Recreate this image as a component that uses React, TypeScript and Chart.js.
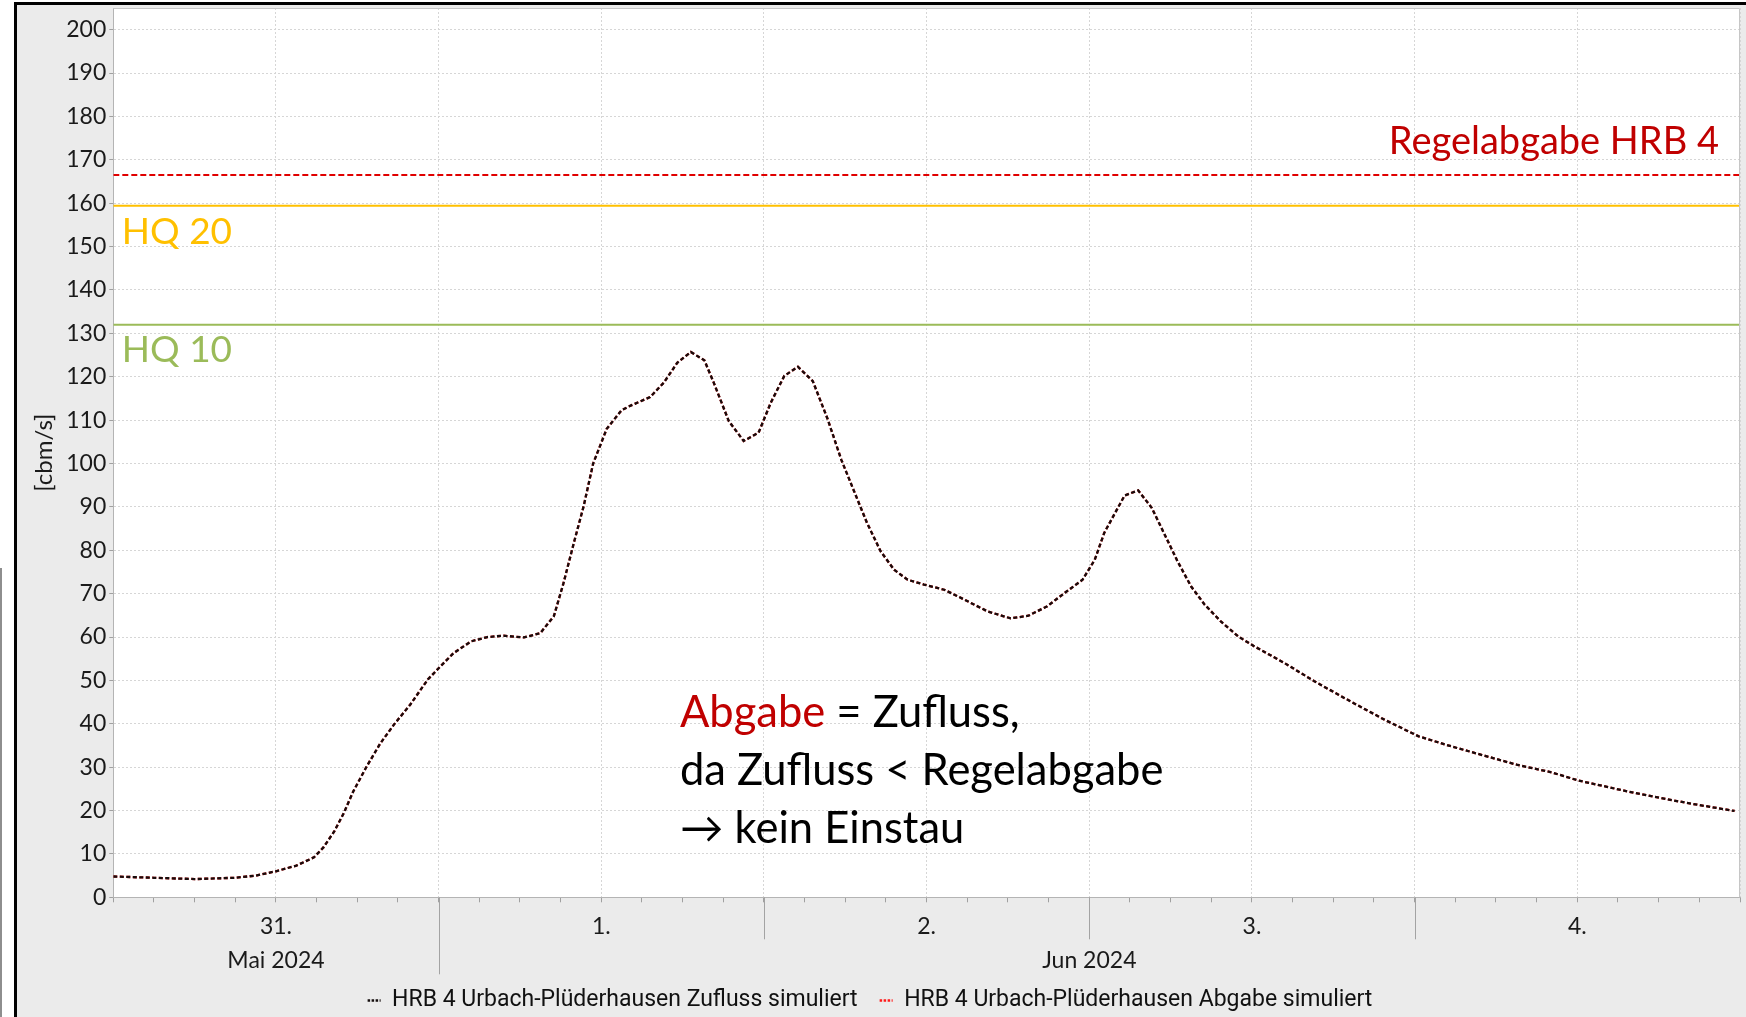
import React, { useEffect, useRef } from 'react';
import { Chart, registerables } from 'chart.js';

Chart.register(...registerables);

// ---- data (hours since 31 May 2024 00:00) ----
const hours = [0, 3, 6, 9, 10.5, 12, 13.5, 14.8, 15.5, 16.3, 17, 17.7, 18.7, 19.7, 20.7, 21.9, 23.2, 24, 25.1, 26.4, 27.6, 28.8, 30.3, 31.5, 32.5, 33.2, 34, 34.7, 35.4, 36.4, 37.5, 38.2, 39.6, 40.6, 41.6, 42.6, 43.6, 44.3, 45.4, 46.5, 47.6, 48.5, 49.5, 50.5, 51.6, 52.7, 53.7, 54.7, 55.6, 56.6, 57.6, 58.6, 59.8, 61.3, 62.8, 64.5, 66.2, 67.5, 68.9, 70.2, 71.5, 72.4, 73.1, 73.9, 74.6, 75.6, 76.6, 77.5, 78.5, 79.5, 80.5, 81.7, 83, 84.2, 86.4, 88.6, 91.3, 93.8, 96.3, 98.7, 101.2, 103.6, 106.1, 108.1, 112.3, 116, 119.6];
const zufluss = [4.8, 4.5, 4.2, 4.5, 5.0, 6.0, 7.3, 9.2, 11.5, 15.2, 19.4, 24.4, 30.2, 35.5, 39.8, 44.4, 50.2, 52.8, 56.3, 59, 60, 60.3, 59.9, 60.9, 64.8, 72.3, 82, 90.2, 100, 108, 112.3, 113.4, 115.3, 118.6, 123.2, 125.7, 123.8, 118.6, 109.8, 105.2, 107.1, 114, 120.2, 122.3, 119, 110.2, 100.9, 93.2, 86.3, 79.8, 75.5, 73.2, 72.1, 70.9, 68.6, 65.9, 64.3, 64.9, 67.1, 70.2, 73.2, 77.8, 84, 88.6, 92.6, 93.8, 89.8, 84, 77.5, 71.7, 67.5, 63.6, 60.1, 57.8, 54, 49.8, 45.1, 40.9, 37.1, 34.8, 32.6, 30.5, 28.8, 26.9, 24, 21.8, 19.9];
// Abgabe = Zufluss (no retention)
const abgabe = [4.8, 4.5, 4.2, 4.5, 5.0, 6.0, 7.3, 9.2, 11.5, 15.2, 19.4, 24.4, 30.2, 35.5, 39.8, 44.4, 50.2, 52.8, 56.3, 59, 60, 60.3, 59.9, 60.9, 64.8, 72.3, 82, 90.2, 100, 108, 112.3, 113.4, 115.3, 118.6, 123.2, 125.7, 123.8, 118.6, 109.8, 105.2, 107.1, 114, 120.2, 122.3, 119, 110.2, 100.9, 93.2, 86.3, 79.8, 75.5, 73.2, 72.1, 70.9, 68.6, 65.9, 64.3, 64.9, 67.1, 70.2, 73.2, 77.8, 84, 88.6, 92.6, 93.8, 89.8, 84, 77.5, 71.7, 67.5, 63.6, 60.1, 57.8, 54, 49.8, 45.1, 40.9, 37.1, 34.8, 32.6, 30.5, 28.8, 26.9, 24, 21.8, 19.9];

const REGELABGABE = 166.5;
const HQ20 = 159.4;
const HQ10 = 132;

const X_MIN = 0;
const X_MAX = 120;
const xTickHours = [0, 3, 6, 9, 12, 15, 18, 21, 24, 27, 30, 33, 36, 39, 42, 45, 48, 51, 54, 57, 60, 63, 66, 69, 72, 75, 78, 81, 84, 87, 90, 93, 96, 99, 102, 105, 108, 111, 114, 117, 120];
const dayLabels = ['31.', '1.', '2.', '3.', '4.'];
const dayBoundaries = [24, 48, 72, 96];
const monthLabels = ['Mai 2024', 'Jun 2024'];
const monthStart = [0, 24];
const monthEnd = [24, 120];
const yTicks = [0, 10, 20, 30, 40, 50, 60, 70, 80, 90, 100, 110, 120, 130, 140, 150, 160, 170, 180, 190, 200];

const ANNOT_HOUR = 41.8;
const ANNOT_VALUE = 39.26;

// ---- layout ----
const W = 1746;
const H = 1022;
const PLOT_LEFT = 113.3;
const PLOT_BOTTOM = 897.3;

const FONT = 'Lato, "DejaVu Sans", sans-serif';
const LEGEND_FONT = '"Liberation Sans Narrow", Roboto, sans-serif';

const pts = (vals: number[]) => vals.map((v, i) => ({ x: hours[i], y: v }));
const hline = (v: number) => [{ x: X_MIN, y: v }, { x: X_MAX, y: v }];

const overlay = {
  id: 'overlay',
  beforeDraw(chart: any) {
    const { ctx, chartArea: a } = chart;
    ctx.save();
    ctx.fillStyle = '#ffffff';
    ctx.fillRect(a.left, a.top, a.right - a.left, a.bottom - a.top);
    ctx.restore();
  },
  afterDraw(chart: any) {
    const { ctx, chartArea: a, scales } = chart;
    const x = scales.x;
    const y = scales.y;
    ctx.save();
    // plot frame
    ctx.strokeStyle = '#c6c6c6';
    ctx.lineWidth = 1;
    ctx.beginPath();
    ctx.moveTo(a.left, a.top + 0.5);
    ctx.lineTo(a.right - 0.5, a.top + 0.5);
    ctx.lineTo(a.right - 0.5, a.bottom);
    ctx.stroke();
    // separators below the axis
    ctx.strokeStyle = '#a3a3a3';
    dayBoundaries.forEach((h) => {
      const px = Math.round(x.getPixelForValue(h)) + 0.5;
      const len = monthStart.includes(h) ? 77 : 42;
      ctx.beginPath();
      ctx.moveTo(px, a.bottom);
      ctx.lineTo(px, a.bottom + len);
      ctx.stroke();
    });
    // month labels
    ctx.font = `23px ${FONT}`;
    ctx.fillStyle = '#1a1a1a';
    ctx.textAlign = 'center';
    ctx.textBaseline = 'alphabetic';
    monthLabels.forEach((m, i) => {
      const cx = (x.getPixelForValue(monthStart[i]) + x.getPixelForValue(monthEnd[i])) / 2;
      ctx.fillText(m, cx, a.bottom + 71);
    });
    // threshold labels
    ctx.font = `38px ${FONT}`;
    ctx.textAlign = 'right';
    ctx.fillStyle = '#c00000';
    ctx.fillText('Regelabgabe HRB 4', a.right - 21, y.getPixelForValue(REGELABGABE) - 21);
    ctx.font = `37px ${FONT}`;
    ctx.textAlign = 'left';
    ctx.fillStyle = '#ffc000';
    ctx.fillText('HQ 20', a.left + 8.5, y.getPixelForValue(HQ20) + 38);
    ctx.fillStyle = '#9bbb59';
    ctx.fillText('HQ 10', a.left + 8.5, y.getPixelForValue(HQ10) + 37.7);
    // annotation
    ctx.font = `43.5px ${FONT}`;
    const ax = x.getPixelForValue(ANNOT_HOUR);
    const ay = y.getPixelForValue(ANNOT_VALUE);
    ctx.fillStyle = '#c00000';
    ctx.fillText('Abgabe', ax, ay);
    const w1 = ctx.measureText('Abgabe').width;
    ctx.fillStyle = '#000000';
    ctx.fillText(' = Zufluss,', ax + w1, ay);
    ctx.fillText('da Zufluss < Regelabgabe', ax, ay + 58);
    ctx.fillText('\u2192 kein Einstau', ax, ay + 116);
    ctx.restore();
  },
};

export default function App() {
  const ref = useRef<HTMLCanvasElement | null>(null);

  useEffect(() => {
    if (!ref.current) return;
    const chart = new Chart(ref.current, {
      type: 'line',
      data: {
        datasets: [
          {
            label: 'HRB 4 Urbach-Plüderhausen Zufluss simuliert',
            data: pts(zufluss),
            borderColor: '#140d0d',
            backgroundColor: '#140d0d',
            borderWidth: 2.3,
            borderDash: [4, 2.5],
            pointRadius: 0,
            tension: 0,
            order: 0,
          },
          {
            label: 'HRB 4 Urbach-Plüderhausen Abgabe simuliert',
            data: pts(abgabe),
            borderColor: '#ff1a1a',
            backgroundColor: '#ff1a1a',
            borderWidth: 2.3,
            borderDash: [4, 2.5],
            pointRadius: 0,
            tension: 0,
            order: 1,
          },
          {
            label: 'Regelabgabe HRB 4',
            data: hline(REGELABGABE),
            borderColor: '#e00000',
            borderWidth: 2,
            borderDash: [6, 3],
            pointRadius: 0,
            order: 2,
          },
          {
            label: 'HQ 20',
            data: hline(HQ20),
            borderColor: '#ffc000',
            borderWidth: 2,
            pointRadius: 0,
            order: 3,
          },
          {
            label: 'HQ 10',
            data: hline(HQ10),
            borderColor: '#9bbb59',
            borderWidth: 2,
            pointRadius: 0,
            order: 4,
          },
        ],
      },
      options: {
        animation: false,
        responsive: false,
        devicePixelRatio: 1,
        layout: { padding: { top: 8, right: 6, left: 0, bottom: 0 } },
        plugins: {
          tooltip: { enabled: false },
          legend: {
            position: 'bottom',
            labels: {
              filter: (item: any) => item.datasetIndex < 2,
              usePointStyle: true,
              pointStyle: 'line',
              pointStyleWidth: 13,
              font: { family: LEGEND_FONT, size: 23 },
              color: '#111111',
              padding: 22,
              generateLabels: (chart: any) => {
                const items = (Chart as any).defaults.plugins.legend.labels.generateLabels(chart);
                return items.map((it: any) => {
                  const ds = chart.data.datasets[it.datasetIndex];
                  return {
                    ...it,
                    pointStyle: 'line',
                    lineDash: [2.5, 1.5],
                    lineWidth: 2.5,
                    strokeStyle: ds.borderColor,
                    fillStyle: ds.borderColor,
                  };
                });
              },
            },
          },
        },
        scales: {
          x: {
            type: 'linear',
            min: X_MIN,
            max: X_MAX,
            afterBuildTicks: (s: any) => {
              s.ticks = xTickHours.map((v) => ({ value: v }));
            },
            ticks: {
              autoSkip: false,
              maxRotation: 0,
              minRotation: 0,
              padding: 10,
              font: { family: FONT, size: 23 },
              color: '#1a1a1a',
              callback: (v: any) => {
                const n = Number(v);
                return n % 24 === 12 ? dayLabels[Math.floor(n / 24)] : '';
              },
            },
            grid: {
              color: (c: any) => (c.tick && c.tick.value % 12 === 0 ? '#d6d6d6' : 'rgba(0,0,0,0)'),
              tickColor: '#a0a0a0',
              tickLength: 5,
              lineWidth: 1,
            },
            border: { color: '#b4b4b4', width: 1, dash: [2, 2] },
            afterFit: (s: any) => {
              const lh = s.chart.legend ? s.chart.legend.height : 0;
              s.height = s.chart.height - lh - PLOT_BOTTOM;
              s.paddingLeft = 0;
              s.paddingRight = 0;
            },
          },
          y: {
            type: 'linear',
            min: 0,
            max: 205,
            afterBuildTicks: (s: any) => {
              s.ticks = yTicks.map((v) => ({ value: v }));
            },
            ticks: {
              padding: 3,
              font: { family: FONT, size: 23 },
              color: '#1a1a1a',
            },
            grid: {
              color: '#d6d6d6',
              tickColor: '#a0a0a0',
              tickLength: 4,
              lineWidth: 1,
            },
            border: { color: '#b4b4b4', width: 1, dash: [2, 2] },
            title: {
              display: true,
              text: '[cbm/s]',
              font: { family: FONT, size: 24 },
              color: '#1a1a1a',
              padding: { top: 30, bottom: 0 },
            },
            afterFit: (s: any) => {
              s.width = PLOT_LEFT;
              s.paddingTop = 0;
              s.paddingBottom = 0;
            },
          },
        },
      } as any,
      plugins: [overlay],
    } as any);
    return () => chart.destroy();
  }, []);

  return (
    <div style={{ position: 'absolute', left: 0, top: 0, width: W, height: 1017, overflow: 'hidden', background: '#ffffff' }}>
      <div style={{ position: 'absolute', left: 0, top: 568, width: 2, height: 460, background: '#8e8e8e' }} />
      <div
        style={{
          position: 'absolute',
          left: 14,
          top: 2,
          width: 1800,
          height: 1100,
          border: '3px solid #000',
          boxSizing: 'border-box',
          background: '#ebebeb',
        }}
      />
      <canvas ref={ref} width={W} height={H} style={{ position: 'absolute', left: 0, top: 0, width: W, height: H, display: 'block' }} />
    </div>
  );
}
